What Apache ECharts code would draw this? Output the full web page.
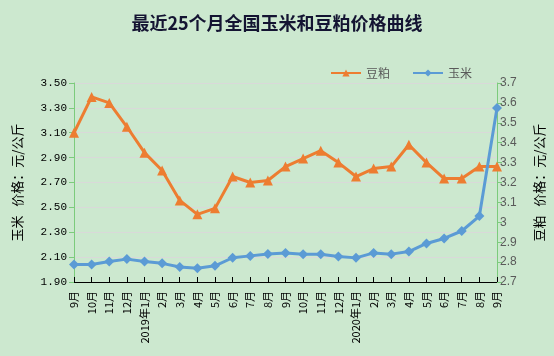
<!DOCTYPE html>
<html>
<head>
<meta charset="utf-8">
<script src="https://cdn.jsdelivr.net/npm/echarts@6/dist/echarts.min.js"></script>
<style>
html,body{margin:0;padding:0;background:#cce8cf;}
#c{width:554px;height:356px;}
</style>
</head>
<body>
<div id="c"></div>
<script>
var categories = ['9月','10月','11月','12月','2019年1月','2月','3月','4月','5月','6月','7月','8月','9月','10月','11月','12月','2020年1月','2月','3月','4月','5月','6月','7月','8月','9月'];
var soymeal = [3.45,3.63,3.60,3.48,3.35,3.26,3.11,3.04,3.07,3.23,3.20,3.21,3.28,3.32,3.36,3.30,3.23,3.27,3.28,3.39,3.30,3.22,3.22,3.28,3.28];
var corn = [2.04,2.04,2.065,2.084,2.065,2.05,2.02,2.01,2.03,2.095,2.11,2.126,2.134,2.124,2.124,2.105,2.094,2.134,2.124,2.145,2.21,2.25,2.31,2.43,3.30];
var leftTicks = {min:1.9, max:3.5, interval:0.2};
var rightTicks = {min:2.7, max:3.7, interval:0.1};

var chart = echarts.init(document.getElementById('c'));
chart.setOption({
  backgroundColor:'#cce8cf',
  animation:false,
  title:{
    text:'最近25个月全国玉米和豆粕价格曲线',
    left:'center', top:9,
    textStyle:{fontFamily:'Noto Sans CJK SC', fontWeight:'bold', fontSize:18, color:'#141432'}
  },
  legend:{
    left:325, top:62, itemWidth:30, itemHeight:9, itemGap:22,
    textStyle:{fontFamily:'Noto Sans CJK SC', fontSize:12, color:'#595959'},
    data:['豆粕','玉米']
  },
  grid:{left:74, right:56, top:83, bottom:74},
  xAxis:{
    type:'category', data:categories, boundaryGap:false,
    axisLine:{lineStyle:{color:'#000', width:1}},
    axisTick:{inside:true, length:5, alignWithLabel:true, lineStyle:{color:'#000'}},
    axisLabel:{rotate:90, interval:0, margin:9, fontSize:11, color:'#000', fontFamily:'Noto Sans CJK SC'}
  },
  yAxis:[{
    type:'value', min:leftTicks.min, max:leftTicks.max, interval:leftTicks.interval,
    name:'玉米   价格：元/公斤', nameLocation:'middle', nameRotate:90, nameGap:50,
    nameTextStyle:{fontFamily:'Noto Sans CJK SC', fontSize:13, color:'#000'},
    axisLine:{show:true, lineStyle:{color:'#7ccb7c'}},
    axisTick:{show:true, length:5, lineStyle:{color:'#7ccb7c'}},
    axisLabel:{fontFamily:'Liberation Mono', fontSize:11, color:'#000', margin:7,
      formatter:function(v){return v.toFixed(2);}},
    splitLine:{lineStyle:{color:'#d9d9d9', width:1}}
  },{
    type:'value', min:rightTicks.min, max:rightTicks.max, interval:rightTicks.interval,
    position:'right',
    name:'豆粕   价格：元/公斤', nameLocation:'middle', nameRotate:90, nameGap:36,
    nameTextStyle:{fontFamily:'Noto Sans CJK SC', fontSize:13, color:'#000'},
    axisLine:{show:true, lineStyle:{color:'#7ccb7c'}},
    axisTick:{show:true, length:5, lineStyle:{color:'#7ccb7c'}},
    axisLabel:{fontFamily:'Liberation Sans', fontSize:12, color:'#595959', margin:3,
      formatter:function(v){return String(Math.round(v*10)/10);}},
    splitLine:{show:false}
  }],
  series:[{
    name:'豆粕', type:'line', yAxisIndex:1, data:soymeal,
    symbol:'triangle', symbolSize:10,
    lineStyle:{color:'#ed7d31', width:3},
    itemStyle:{color:'#ed7d31'}
  },{
    name:'玉米', type:'line', yAxisIndex:0, data:corn,
    symbol:'diamond', symbolSize:10,
    lineStyle:{color:'#5b9bd5', width:3},
    itemStyle:{color:'#5b9bd5'}
  }]
});
</script>
</body>
</html>
